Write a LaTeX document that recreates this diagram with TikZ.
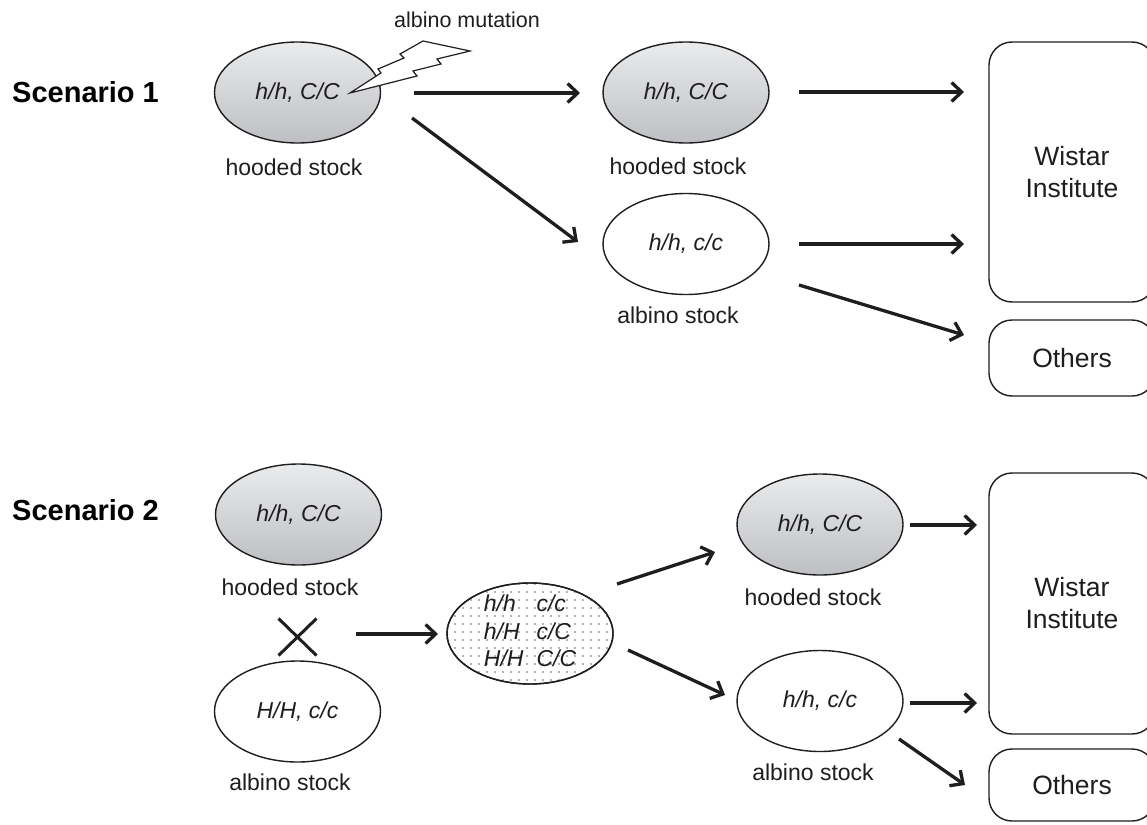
\documentclass[tikz,border=0pt]{standalone}
\usepackage{fontspec}
\setmainfont{Liberation Sans}
\usetikzlibrary{shapes.geometric,shapes.misc,arrows.meta}
\definecolor{gtop}{RGB}{234,235,237}
\definecolor{gbot}{RGB}{190,191,194}
\definecolor{ink}{RGB}{30,30,30}
\begin{document}
\begin{tikzpicture}[x=1pt,y=-1pt,
  ell/.style={ellipse,draw=ink,line width=1.4pt,minimum width=166pt,minimum height=101pt,inner sep=0pt,font=\fontsize{23}{27}\selectfont\itshape,text=ink},
  grayell/.style={ell,top color=gtop,bottom color=gbot},
  whiteell/.style={ell,fill=white},
  lbl/.style={font=\fontsize{23}{27}\selectfont,text=ink,inner sep=0pt},
  scen/.style={font=\fontsize{29}{34}\selectfont\bfseries,anchor=west,inner sep=0pt,text=black},
  destbox/.style={draw=ink,line width=1.4pt,rounded corners=23pt,minimum width=166pt,align=center,font=\fontsize{26.5}{32}\selectfont,text=ink},
  arr/.style={line width=3.3pt,draw=ink,-{Straight Barb[length=10pt,width=19pt]}},
]
\useasboundingbox (0,0) rectangle (1147,824);
\fill[white] (0,0) rectangle (1147,824);

% ---------------- Scenario 1 ----------------
\node[scen] (sc1) at (12,92) {Scenario 1};
\node[grayell] (h1) at (297.5,92.5) {h/h, C/C};
\node[lbl] (h1l) at (294,167) {hooded stock};
\node[lbl,font=\fontsize{21.5}{26}\selectfont] (mut) at (467,20) {albino mutation};
\draw[fill=white,draw=ink,line width=1.2pt,line join=miter]
  (350,93) -- (381,73) -- (378,69) -- (404,58) -- (400,54) -- (423,41)
  -- (470,51) -- (437,59) -- (441,64) -- (413,71) -- (417,76) -- cycle;

\node[grayell] (h2) at (686,92.5) {h/h, C/C};
\node[lbl] (h2l) at (678,166) {hooded stock};
\node[whiteell] (al1) at (686,244) {h/h, c/c};
\node[lbl] (al1l) at (678,315) {albino stock};

\node[destbox,minimum height=260pt] (w1) at (1072,172) {Wistar\\Institute};
\node[destbox,minimum height=76pt] (o1) at (1072,358) {Others};

\coordinate (a1s) at (414,93);  \coordinate (a1e) at (580,93);
\coordinate (a2s) at (412,118); \coordinate (a2e) at (578,242);
\coordinate (a3s) at (799,92);  \coordinate (a3e) at (964,92);
\coordinate (a4s) at (799,244); \coordinate (a4e) at (964,244);
\coordinate (a5s) at (799,285); \coordinate (a5e) at (964,335);
\draw[arr] (a1s) -- (a1e);
\draw[arr] (a2s) -- (a2e);
\draw[arr] (a3s) -- (a3e);
\draw[arr] (a4s) -- (a4e);
\draw[arr] (a5s) -- (a5e);

% ---------------- Scenario 2 ----------------
\node[scen] (sc2) at (12,510) {Scenario 2};
\node[grayell] (h3) at (298.5,514.5) {h/h, C/C};
\node[lbl] (h3l) at (290,587) {hooded stock};
\node[cross out,draw=ink,line width=3pt,minimum width=35pt,minimum height=34pt,inner sep=0pt] (cross) at (297.5,637) {};
\node[whiteell] (al2) at (297.5,711.5) {H/H, c/c};
\node[lbl] (al2l) at (290,782) {albino stock};

\node[ell,fill=white] (mix) at (530,633.5) {};
\begin{scope}
  \clip (530,633.5) ellipse [x radius=83pt, y radius=50.5pt];
  \foreach \x in {447,455,...,615} {
    \foreach \y in {584,592,...,686} {
      \fill[black!60] (\x,\y) circle (0.8pt);
    }
  }
\end{scope}
\draw[draw=ink,line width=1.4pt] (530,633.5) ellipse [x radius=83pt, y radius=50.5pt];
\node[inner sep=0pt,text=ink,font=\fontsize{23}{27.5}\selectfont\itshape] (mixt) at (mix.center)
  {\begin{tabular}{@{}l@{\hspace{13pt}}l@{}}h/h & c/c\\ h/H & c/C\\ H/H & C/C\end{tabular}};

\node[grayell] (h4) at (820,524.5) {h/h, C/C};
\node[lbl] (h4l) at (813,597) {hooded stock};
\node[whiteell] (al3) at (820,701) {h/h, c/c};
\node[lbl] (al3l) at (813,772) {albino stock};

\node[destbox,minimum height=261pt] (w2) at (1072,603.5) {Wistar\\Institute};
\node[destbox,minimum height=72pt] (o2) at (1072,785) {Others};

\coordinate (b1s) at (356,634); \coordinate (b1e) at (438,634);
\coordinate (b2s) at (617,584); \coordinate (b2e) at (715,552);
\coordinate (b3s) at (628,650); \coordinate (b3e) at (725,695);
\coordinate (b4s) at (910,525); \coordinate (b4e) at (977,525);
\coordinate (b5s) at (910,703); \coordinate (b5e) at (977,703);
\coordinate (b6s) at (899,739); \coordinate (b6e) at (965,785);
\draw[arr] (b1s) -- (b1e);
\draw[arr] (b2s) -- (b2e);
\draw[arr] (b3s) -- (b3e);
\draw[arr] (b4s) -- (b4e);
\draw[arr] (b5s) -- (b5e);
\draw[arr] (b6s) -- (b6e);
\end{tikzpicture}
\end{document}
